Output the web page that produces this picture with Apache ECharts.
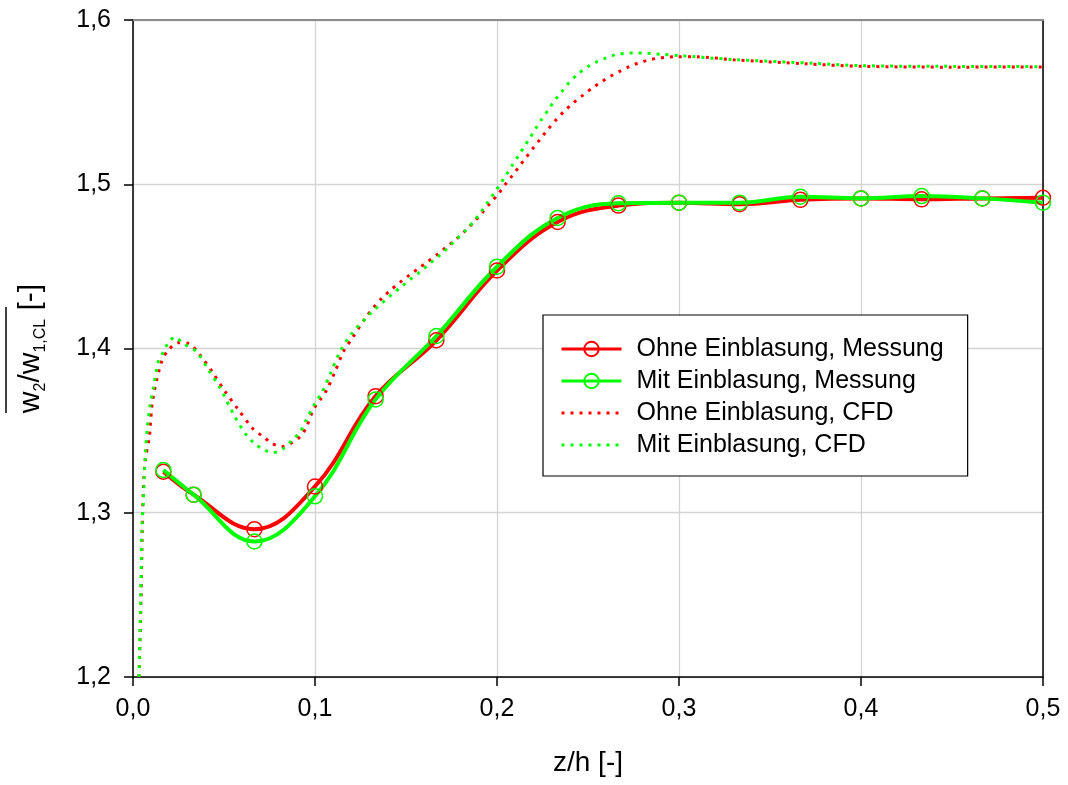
<!DOCTYPE html>
<html>
<head>
<meta charset="utf-8">
<script src="https://cdn.jsdelivr.net/npm/echarts@6/dist/echarts.min.js"></script>
<style>html,body{margin:0;padding:0;background:#fff;}#c{width:1068px;height:785px;}</style>
</head>
<body>
<div id="c"></div>
<script>
// ---- data ----
const seriesNames = ['Ohne Einblasung, Messung', 'Mit Einblasung, Messung', 'Ohne Einblasung, CFD', 'Mit Einblasung, CFD'];
const xTicks = [0, 0.1, 0.2, 0.3, 0.4, 0.5];
const yTicks = [1.2, 1.3, 1.4, 1.5, 1.6];

const measX = [0.0167, 0.0333, 0.0667, 0.1, 0.1333, 0.1667, 0.2, 0.2333, 0.2667, 0.3, 0.3333, 0.3667, 0.4, 0.4333, 0.4667, 0.5];
const ohneMess = [1.325, 1.311, 1.290, 1.316, 1.371, 1.405, 1.4475, 1.477, 1.487, 1.4888, 1.4878, 1.4905, 1.4914, 1.4908, 1.4914, 1.4918];
const mitMess = [1.326, 1.311, 1.2825, 1.310, 1.369, 1.4076, 1.4498, 1.4795, 1.4884, 1.4888, 1.4888, 1.4924, 1.4914, 1.4928, 1.4914, 1.4888];

const ohneCfdX = [0.0033, 0.0044, 0.0053, 0.0065, 0.0090, 0.0108, 0.0157, 0.0194, 0.0249, 0.0304, 0.0368, 0.044, 0.0505, 0.058, 0.066, 0.0716, 0.0762, 0.0817, 0.0863, 0.0918, 0.0954, 0.099, 0.1027, 0.1064, 0.111, 0.1156, 0.121, 0.128, 0.132, 0.1366, 0.1416, 0.1467, 0.1519, 0.157, 0.1619, 0.167, 0.172, 0.1775, 0.1822, 0.1874, 0.1919, 0.1962, 0.2004, 0.2042, 0.2082, 0.2121, 0.2159, 0.2198, 0.2238, 0.2278, 0.2322, 0.2369, 0.2421, 0.2473, 0.2524, 0.2575, 0.2625, 0.2676, 0.2727, 0.2776, 0.2828, 0.2879, 0.2929, 0.298, 0.31, 0.33, 0.37, 0.4, 0.45, 0.5];
const ohneCfdY = [1.200, 1.247, 1.300, 1.330, 1.3463, 1.3686, 1.392, 1.399, 1.4035, 1.4032, 1.396, 1.385, 1.374, 1.3626, 1.351, 1.3463, 1.3423, 1.3403, 1.342, 1.3463, 1.3524, 1.3626, 1.3686, 1.3747, 1.3859, 1.398, 1.4072, 1.419, 1.4248, 1.4305, 1.4356, 1.4403, 1.4447, 1.4488, 1.4529, 1.4571, 1.4616, 1.4665, 1.4713, 1.4772, 1.4827, 1.4884, 1.4937, 1.4994, 1.505, 1.5107, 1.5162, 1.5219, 1.5275, 1.5332, 1.5389, 1.5444, 1.5497, 1.5543, 1.5586, 1.5624, 1.5659, 1.5689, 1.5716, 1.5738, 1.5755, 1.5767, 1.5773, 1.5777, 1.5776, 1.5758, 1.5733, 1.5718, 1.5713, 1.5714];

const mitCfdX = [0.0033, 0.0042, 0.0049, 0.0057, 0.0068, 0.0079, 0.0093, 0.0112, 0.0139, 0.0167, 0.0194, 0.0231, 0.0276, 0.035, 0.0414, 0.0478, 0.056, 0.0625, 0.067, 0.0725, 0.077, 0.0826, 0.0872, 0.0918, 0.0945, 0.1, 0.1037, 0.1082, 0.1137, 0.1201, 0.1284, 0.132, 0.1371, 0.1423, 0.1474, 0.1526, 0.1577, 0.1626, 0.1678, 0.1727, 0.1776, 0.1826, 0.1872, 0.1912, 0.1948, 0.1984, 0.2018, 0.2051, 0.2084, 0.2117, 0.2148, 0.2181, 0.2212, 0.2245, 0.228, 0.2315, 0.2355, 0.2397, 0.2447, 0.2498, 0.255, 0.26, 0.2651, 0.2702, 0.2753, 0.2804, 0.2854, 0.2905, 0.3005, 0.329, 0.3745, 0.4, 0.443, 0.5];
const mitCfdY = [1.200, 1.247, 1.291, 1.308, 1.336, 1.352, 1.365, 1.376, 1.392, 1.398, 1.4035, 1.407, 1.403, 1.398, 1.387, 1.376, 1.3585, 1.347, 1.342, 1.338, 1.3366, 1.339, 1.344, 1.349, 1.355, 1.3666, 1.373, 1.384, 1.398, 1.409, 1.419, 1.423, 1.428, 1.433, 1.4376, 1.4423, 1.4466, 1.4513, 1.456, 1.461, 1.4665, 1.4717, 1.4774, 1.4831, 1.489, 1.4945, 1.5002, 1.5058, 1.5115, 1.5172, 1.5227, 1.5282, 1.5338, 1.5395, 1.545, 1.5507, 1.5563, 1.562, 1.5673, 1.5716, 1.5746, 1.577, 1.5789, 1.5797, 1.5799, 1.5799, 1.5795, 1.5791, 1.5783, 1.576, 1.5736, 1.5722, 1.5718, 1.5716];

// ---- build ----
const FONT = 'Liberation Sans, Arial, sans-serif';
const RED = '#ff0000', GREEN = '#00ff00';
const pairs = (xs, ys) => xs.map((x, i) => [x, ys[i]]);
const commaFmt = v => v.toFixed(1).replace('.', ',');

const chart = echarts.init(document.getElementById('c'), null, {renderer: 'canvas'});

function measSeries(name, ys, color) {
  return {
    name, type: 'line', data: pairs(measX, ys),
    smooth: 0.4,
    symbol: 'circle', symbolSize: 15,
    itemStyle: {color: 'rgba(255,255,255,0)', borderColor: color, borderWidth: 1.5},
    lineStyle: {color, width: 4},
    z: 3
  };
}
function cfdSeries(name, xs, ys, color) {
  return {
    name, type: 'line', data: pairs(xs, ys),
    smooth: 0.3, showSymbol: false, symbol: 'none',
    itemStyle: {color},
    lineStyle: {color, width: 3, type: [3, 6]},
    z: 4
  };
}

chart.setOption({
  animation: false,
  backgroundColor: '#fff',
  grid: {left: 133, right: 25, top: 20, bottom: 108},
  xAxis: [{
    type: 'value', min: xTicks[0], max: xTicks[xTicks.length - 1], interval: 0.1,
    axisLine: {show: true, onZero: false, lineStyle: {color: '#000', width: 1.5}},
    axisTick: {show: true, length: 9, lineStyle: {color: '#000', width: 1.5}},
    axisLabel: {formatter: commaFmt, fontSize: 25, color: '#000', fontFamily: FONT, margin: 20},
    splitLine: {show: true, lineStyle: {color: '#d4d4d4', width: 1.3}},
    name: 'z/h [-]', nameLocation: 'middle', nameGap: 72,
    nameTextStyle: {fontSize: 28, color: '#000', fontFamily: FONT}
  }, {
    type: 'value', position: 'top', min: xTicks[0], max: xTicks[xTicks.length - 1], interval: 0.1,
    axisLine: {show: true, onZero: false, lineStyle: {color: '#8c8c8c', width: 2}},
    axisTick: {show: false}, axisLabel: {show: false}, splitLine: {show: false}
  }],
  yAxis: [{
    type: 'value', min: yTicks[0], max: yTicks[yTicks.length - 1], interval: 0.1,
    axisLine: {show: true, onZero: false, lineStyle: {color: '#000', width: 1.5}},
    axisTick: {show: true, length: 9, lineStyle: {color: '#000', width: 1.5}},
    axisLabel: {formatter: commaFmt, fontSize: 25, color: '#000', fontFamily: FONT, margin: 22},
    splitLine: {show: true, lineStyle: {color: '#d4d4d4', width: 1.3}},
    name: '{a|w}{s|2}{a|/w}{s|1,CL}{a| [-]}', nameLocation: 'middle', nameGap: 84, nameRotate: 90,
    nameTextStyle: {
      rich: {
        a: {fontSize: 30, color: '#000', fontFamily: FONT, lineHeight: 36},
        s: {fontSize: 16, color: '#000', fontFamily: FONT, lineHeight: 16, verticalAlign: 'bottom'}
      }
    }
  }, {
    type: 'value', position: 'right', min: yTicks[0], max: yTicks[yTicks.length - 1], interval: 0.1,
    axisLine: {show: true, onZero: false, lineStyle: {color: '#000', width: 1.5}},
    axisTick: {show: false}, axisLabel: {show: false}, splitLine: {show: false}
  }],
  legend: {
    orient: 'vertical', left: 543, top: 315,
    data: [
      {name: seriesNames[0]},
      {name: seriesNames[1]},
      {name: seriesNames[2], itemStyle: {color: 'rgba(0,0,0,0)', borderWidth: 0, opacity: 0}},
      {name: seriesNames[3], itemStyle: {color: 'rgba(0,0,0,0)', borderWidth: 0, opacity: 0}}
    ],
    itemWidth: 60, itemHeight: 18, itemGap: 0,
    padding: [18, 24, 15, 17],
    borderColor: '#000', borderWidth: 1.2, backgroundColor: '#fff',
    lineStyle: {width: 3},
    textStyle: {fontSize: 25, color: '#000', fontFamily: FONT, lineHeight: 32, padding: [0, 0, 0, 10]}
  },
  graphic: [{
    type: 'line', shape: {x1: 6, y1: 307, x2: 6, y2: 413},
    style: {stroke: '#000', lineWidth: 1.5}
  }],
  series: [
    measSeries(seriesNames[0], ohneMess, RED),
    measSeries(seriesNames[1], mitMess, GREEN),
    cfdSeries(seriesNames[2], ohneCfdX, ohneCfdY, RED),
    cfdSeries(seriesNames[3], mitCfdX, mitCfdY, GREEN)
  ]
});
</script>
</body>
</html>
